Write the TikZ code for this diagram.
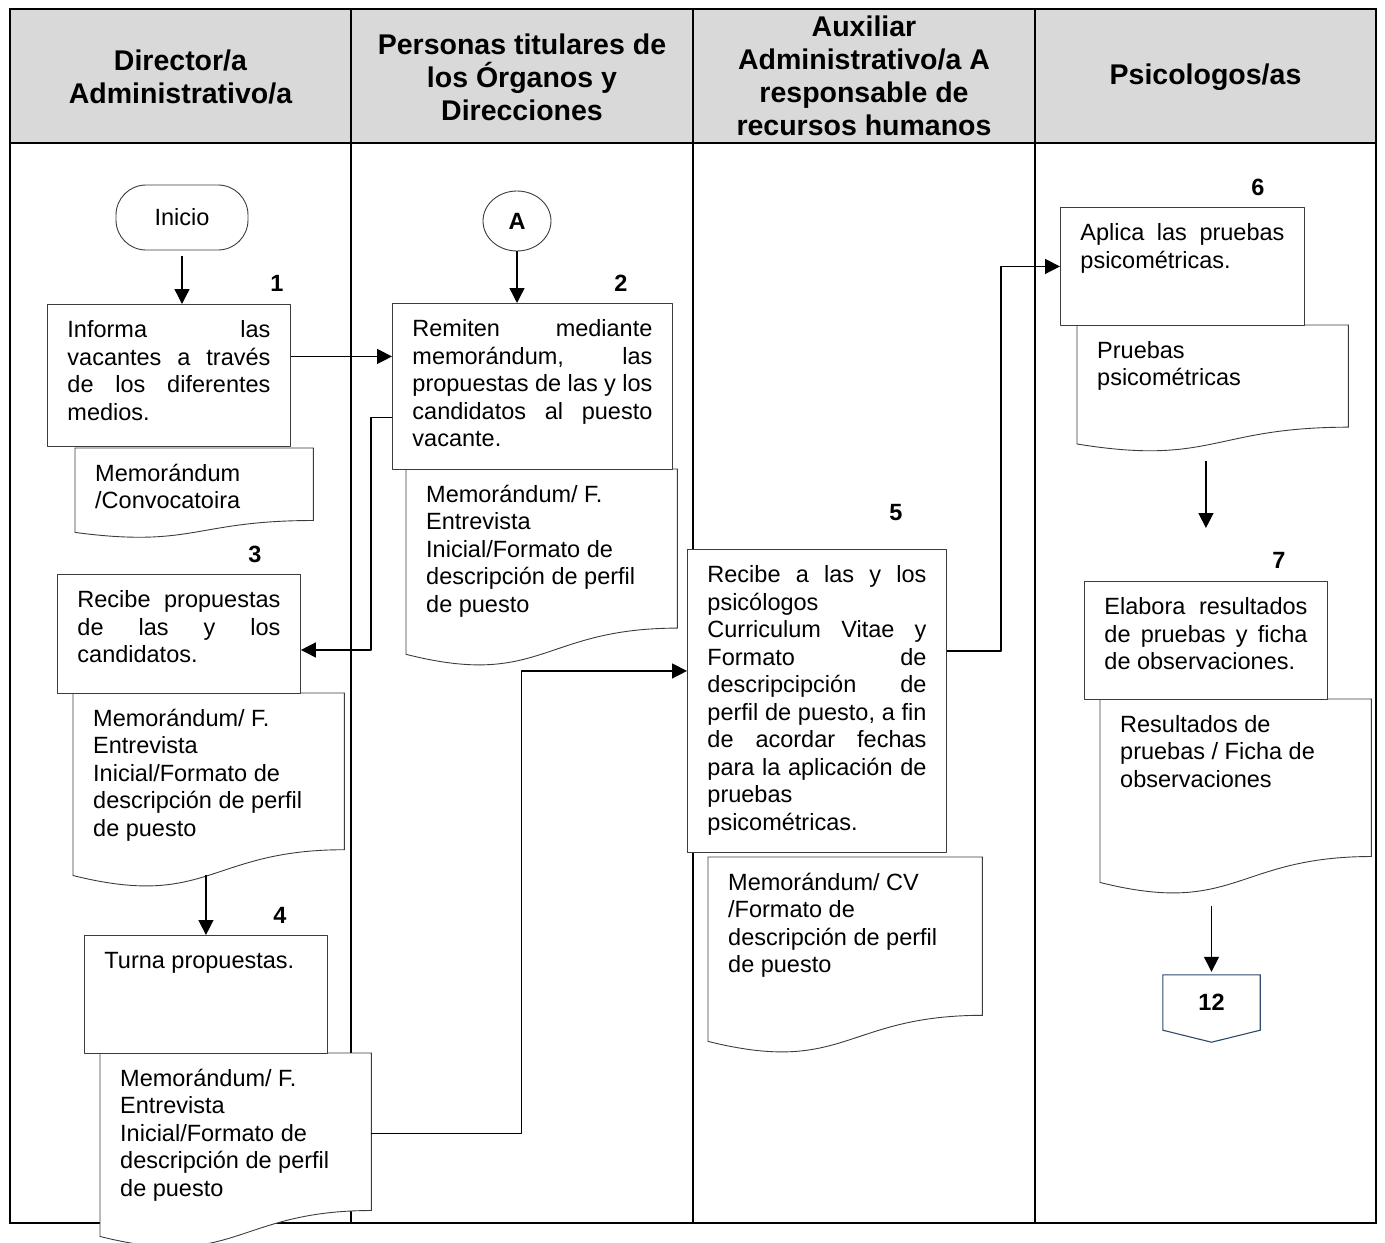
\documentclass[tikz,border=0pt]{standalone}
\usepackage{fontspec}
\setmainfont{Liberation Sans}
\usetikzlibrary{arrows.meta,calc,shapes.geometric}
\pgfdeclarelayer{back}
\pgfsetlayers{back,main}
\definecolor{headgray}{HTML}{D9D9D9}
\definecolor{boxline}{HTML}{3C3C3C}
\definecolor{pageline}{HTML}{2E4A6B}
\newcommand{\bodyfont}{\fontsize{23.5bp}{27.5bp}\selectfont}
\newcommand{\headfont}{\fontsize{28.5bp}{33bp}\selectfont\bfseries}
\newcommand{\numfont}{\fontsize{23.5bp}{26bp}\selectfont\bfseries}
\newcommand{\cell}[3]{\parbox[c][#2][t]{#1}{\vspace*{14bp}\strut #3}}
\newcommand{\jl}[1]{\makebox[\linewidth][s]{#1}}
\newcommand{\docline}[1]{%
  \draw [docedge] (#1.north west) -- (#1.north east)
    -- ($(#1.north east)!0.802!(#1.south east)$)
    .. controls ($(#1.north)!0.802!(#1.south)$) and ($(#1.north)!1.1075!(#1.south)$)
    .. ($(#1.north west)!0.934!(#1.south west)$) -- cycle;}
\begin{document}
\begin{tikzpicture}[>={Triangle[length=15bp,width=15bp]},line join=bevel,
  headtext/.style={align=center,font=\headfont},
  terminal/.style={draw=boxline,line width=0.9bp,rounded corners=30bp,minimum width=132bp,minimum height=65bp,font=\bodyfont},
  connector/.style={ellipse,draw=boxline,line width=0.9bp,minimum width=68bp,minimum height=60bp,font=\bodyfont\bfseries},
  procbox/.style={draw=boxline,line width=0.9bp,fill=white,anchor=north west,inner xsep=20bp,inner ysep=0bp,font=\bodyfont},
  docbox/.style={anchor=north west,inner xsep=20bp,inner ysep=0bp,font=\bodyfont},
  docedge/.style={draw=boxline,line width=0.9bp,fill=white},
  stepnum/.style={font=\numfont},
  laneline/.style={black,line width=2.2bp},
  flow/.style={black,line width=1.4bp,->},
]
\useasboundingbox (0bp,0bp) rectangle (1385bp,-1243bp);
%%
\begin{pgfonlayer}{back}
\fill [headgray] (10bp,-9bp) rectangle (1376bp,-143bp);
\draw [laneline] (10bp,-9bp) rectangle (1376bp,-1223bp);
\draw [laneline] (10bp,-143bp) -- (1376bp,-143bp);
\foreach \x in {351,693,1035} \draw [laneline] (\x bp,-9bp) -- (\x bp,-1223bp);
\end{pgfonlayer}
%
\node (head_1) at (180.5bp,-77bp) [headtext] {Director/a\\Administrativo/a};
  \node (head_2) at (522bp,-77bp) [headtext] {Personas titulares de\\los Órganos y\\Direcciones};
  \node (head_3) at (864bp,-76bp) [headtext] {Auxiliar\\Administrativo/a A\\responsable de\\recursos humanos};
  \node (head_4) at (1205.5bp,-77bp) [headtext] {Psicologos/as};
%
\node (inicio) at (182bp,-217.5bp) [terminal] {Inicio};
  \node (con_A) at (517bp,-221bp) [connector] {A};
  \node (num_1) at (277bp,-283bp) [stepnum] {1};
  \node (num_2) at (621bp,-283bp) [stepnum] {2};
  \node (num_3) at (255bp,-554bp) [stepnum] {3};
  \node (num_4) at (280bp,-915bp) [stepnum] {4};
  \node (num_5) at (896bp,-513bp) [stepnum] {5};
  \node (num_6) at (1258bp,-187bp) [stepnum] {6};
  \node (num_7) at (1279bp,-560bp) [stepnum] {7};
%
\node (box_1) at (47bp,-304bp) [procbox] {\cell{203bp}{142bp}{\jl{Informa las}\\\jl{vacantes a través}\\\jl{de los diferentes}\\medios.}};
  \node (box_2) at (392bp,-303bp) [procbox] {\cell{240bp}{166bp}{\jl{Remiten mediante}\\\jl{memorándum, las}\\\jl{propuestas de las y los}\\\jl{candidatos al puesto}\\vacante.}};
  \node (box_3) at (57bp,-574bp) [procbox] {\cell{203bp}{119bp}{\jl{Recibe propuestas}\\\jl{de las y los}\\candidatos.}};
  \node (box_4) at (84bp,-935bp) [procbox] {\cell{203bp}{118bp}{Turna propuestas.}};
  \node (box_5) at (687bp,-549bp) [procbox] {\cell{219bp}{303bp}{\jl{Recibe a las y los}\\psicólogos\\\jl{Curriculum Vitae y}\\\jl{Formato de}\\\jl{descripcipción de}\\\jl{perfil de puesto, a fin}\\\jl{de acordar fechas}\\\jl{para la aplicación de}\\pruebas\\psicométricas.}};
  \node (box_6) at (1060bp,-207bp) [procbox] {\cell{204bp}{118bp}{\jl{Aplica las pruebas}\\psicométricas.}};
  \node (box_7) at (1084bp,-581bp) [procbox] {\cell{203bp}{118bp}{\jl{Elabora resultados}\\\jl{de pruebas y ficha}\\de observaciones.}};
%
\node (doc_1) at (75bp,-448bp) [docbox] {\cell{198bp}{90bp}{Memorándum\\/Convocatoira}};
  \node (doc_2) at (406bp,-469bp) [docbox] {\cell{231bp}{198bp}{Memorándum/ F.\\Entrevista\\Inicial/Formato de\\descripción de perfil\\de puesto}};
  \node (doc_3) at (73bp,-693bp) [docbox] {\cell{231bp}{195bp}{Memorándum/ F.\\Entrevista\\Inicial/Formato de\\descripción de perfil\\de puesto}};
  \node (doc_4) at (100bp,-1053bp) [docbox] {\cell{231bp}{196bp}{Memorándum/ F.\\Entrevista\\Inicial/Formato de\\descripción de perfil\\de puesto}};
  \node (doc_5) at (708bp,-857bp) [docbox] {\cell{234bp}{197bp}{Memorándum/ CV\\/Formato de\\descripción de perfil\\de puesto}};
  \node (doc_6) at (1077bp,-325bp) [docbox] {\cell{231bp}{127bp}{Pruebas\\psicométricas}};
  \node (doc_7) at (1100bp,-699bp) [docbox] {\cell{231bp}{196bp}{Resultados de\\pruebas / Ficha de\\observaciones}};
\begin{pgfonlayer}{back}
\foreach \d in {doc_1,doc_2,doc_3,doc_4,doc_5,doc_6,doc_7} {\docline{\d}}
\end{pgfonlayer}
%
\node (page_12) at (1211.5bp,-1002.5bp) [minimum width=97bp,minimum height=55bp,font=\numfont] {12};
  \draw [pageline,line width=1.1bp,line join=miter] (page_12.north west) -- (page_12.north east) -- (page_12.south east) -- ($(page_12.south)+(0,-12bp)$) -- (page_12.south west) -- cycle;
%
\coordinate (c_1) at ([yshift=19bp]box_1.east);
  \draw [flow,shorten <=6bp] (inicio.south) -- (inicio.south |- box_1.north);
  \draw [flow] (con_A.south) -- (con_A.south |- box_2.north);
  \draw [flow] (c_1) -- (c_1 -| box_2.west);
  \draw [flow] ([yshift=-31bp]box_2.west) -- ++(-21bp,0) |- ([yshift=-16bp]box_3.east);
  \draw [flow] ($(doc_3.south -| box_4.north)+(0,13bp)$) -- (box_4.north);
  \draw [flow] ([yshift=18bp]doc_4.east) -- ++(150bp,0) |- ([yshift=30bp]box_5.west);
  \draw [flow] ([yshift=50bp]box_5.east) -- ++(54bp,0) |- (box_6.west);
  \draw [flow,shorten <=9bp,shorten >=53bp] (doc_6.south -| box_7.north) -- (box_7.north);
  \draw [flow,shorten <=11bp,shorten >=3bp] (doc_7.south -| page_12.north) -- (page_12.north);
%
\end{tikzpicture}
\end{document}
